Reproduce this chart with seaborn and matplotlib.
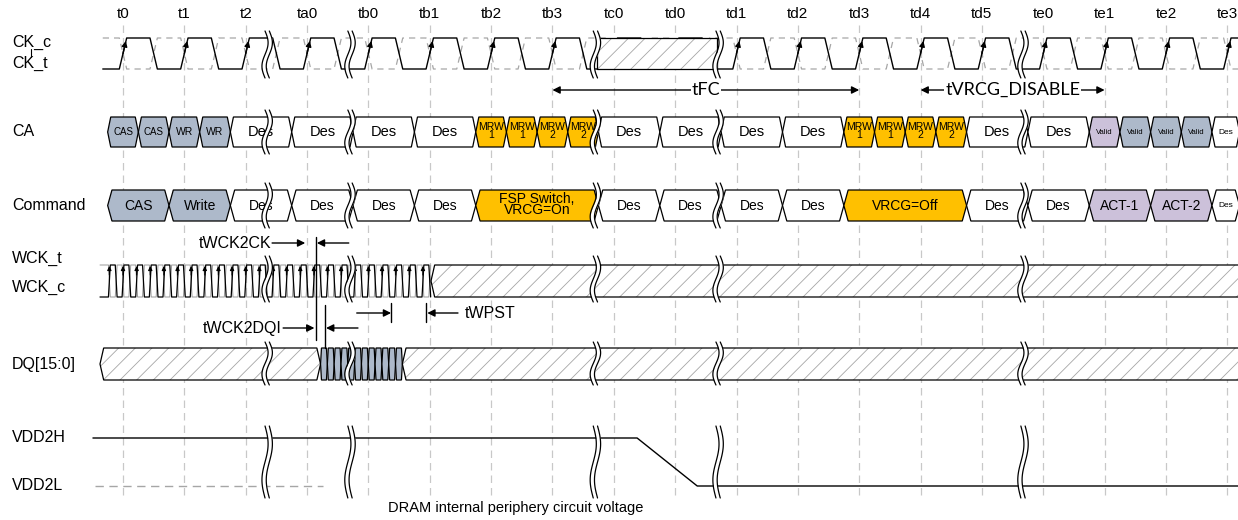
import numpy as np
import pandas as pd
import matplotlib
matplotlib.use('Agg')
import matplotlib.pyplot as plt
from matplotlib.patches import Polygon
import seaborn as sns

# clock edges along the top, one per CK cycle
tick_labels = ['t0', 't1', 't2', 'ta0', 'tb0', 'tb1', 'tb2', 'tb3', 'tc0', 'td0',
               'td1', 'td2', 'td3', 'td4', 'td5', 'te0', 'te1', 'te2', 'te3']

# time breaks, in CK cycles after t0
break_pos = [2.35, 3.70, 7.70, 9.70, 14.67]

# CK stopped (hatched) between these times
ck_stop = (7.72, 9.68)

# CA bus: label, length (CK cycles), kind
ca_labels = ['CAS', 'CAS', 'WR', 'WR', 'Des', 'Des', 'Des', 'Des',
             'MRW\n1', 'MRW\n1', 'MRW\n2', 'MRW\n2', 'Des', 'Des', 'Des', 'Des',
             'MRW\n1', 'MRW\n1', 'MRW\n2', 'MRW\n2', 'Des', 'Des',
             'Valid', 'Valid', 'Valid', 'Valid', 'Des']
ca_len = [0.5] * 4 + [1] * 4 + [0.5] * 4 + [1] * 4 + [0.5] * 4 + [1] * 2 + [0.5] * 4 + [0.45]
ca_kind = ['cmd'] * 4 + ['des'] * 4 + ['mrw'] * 4 + ['des'] * 4 + ['mrw'] * 4 + ['des'] * 2 \
    + ['act', 'cmd', 'cmd', 'cmd'] + ['des']

# Command row
cmd_labels = ['CAS', 'Write', 'Des', 'Des', 'Des', 'Des', 'FSP Switch,\nVRCG=On',
              'Des', 'Des', 'Des', 'Des', 'VRCG=Off', 'Des', 'Des', 'ACT-1', 'ACT-2', 'Des']
cmd_len = [1, 1, 1, 1, 1, 1, 2, 1, 1, 1, 1, 2, 1, 1, 1, 1, 0.45]
cmd_kind = ['cmd', 'cmd', 'des', 'des', 'des', 'des', 'mrw', 'des', 'des', 'des', 'des',
            'mrw', 'des', 'des', 'act', 'act', 'des']
bus_start = -0.25

# WCK: 4.5 toggles per CK, running from wck_on to wck_off
wck_per_ck = 4.5
wck_on, wck_off = -0.375, 5.0

# DQ burst
dq_start = 3.22
dq_beats = 12

# timing markers (CK cycles)
wck2ck_edge = 3.14
dqi_edge = 3.29
wpst = (4.37, 4.94)

# supply: VDD2H drops to VDD2L
vdd_drop = (8.38, 9.36)
vdd_begin = -0.49
vdd2l_ref = (-0.46, 3.26)

fills = {'cmd': '#adb9ca', 'des': 'white', 'mrw': '#ffc000', 'act': '#ccc1da'}
small_font = {'CAS': 7, 'WR': 7.5, 'MRW\n1': 7.5, 'MRW\n2': 7.5, 'Valid': 5.5, 'Des': 6}

# layout (figure pixels from the top)
X0_PX, CYCLE_PX, W_PX, H_PX = 123, 61.35, 1238, 520
TICK_Y = 14
CK_HI, CK_LO = 38, 69
CA_TOP, CA_BOT = 117, 147
CMD_TOP, CMD_BOT = 190, 221
WCK_HI, WCK_LO = 265, 297
DQ_TOP, DQ_BOT = 348, 380
VDDH, VDDL = 438, 486
GRID_TOP, GRID_BOT = 25, 500
LABEL_X = (12 - X0_PX) / CYCLE_PX

sns.set_theme(style='white')
plt.rcParams['font.family'] = ['Liberation Sans', 'DejaVu Sans']
plt.rcParams['text.color'] = 'black'
plt.rcParams['hatch.linewidth'] = 0.6

fig = plt.figure(figsize=(W_PX / 100, H_PX / 100), dpi=100)
ax = fig.add_axes([0, 0, 1, 1])
XMAX = (W_PX - X0_PX) / CYCLE_PX
GREY = '#a6a6a6'
arrow = dict(arrowstyle='-|>', mutation_scale=11, lw=1, color='black',
             shrinkA=0, shrinkB=0)


def draw_break(x, y0, y1):
    yy = np.linspace(y0, y1, 60)
    s = 0.05 * np.sin(2 * np.pi * (yy - y0) / (y1 - y0))
    gap = 0.035
    ax.fill_betweenx(yy, x + s - gap, x + s + gap, color='white', zorder=5, lw=0)
    ax.plot(x + s - gap, yy, color='black', lw=0.9, zorder=5)
    ax.plot(x + s + gap, yy, color='black', lw=0.9, zorder=5)


def hexagon(x0, x1, top, bot, face, p, zorder=3, lw=0.9):
    yc = (top + bot) / 2
    pts = [(x0, yc), (x0 + p, top), (x1 - p, top), (x1, yc), (x1 - p, bot), (x0 + p, bot)]
    ax.add_patch(Polygon(pts, closed=True, facecolor=face, edgecolor='black',
                         lw=lw, zorder=zorder))


def hatched(x0, x1, top, bot, p):
    yc = (top + bot) / 2
    pts = [(x0, yc), (x0 + p, top), (x1 - p, top), (x1, yc), (x1 - p, bot), (x0 + p, bot)]
    ax.add_patch(Polygon(pts, closed=True, facecolor='white', edgecolor=GREY,
                         lw=0, hatch='//', zorder=3))
    ax.add_patch(Polygon(pts, closed=True, fill=False, edgecolor='black',
                         lw=0.9, zorder=3))


# grid and tick labels
for i, lab in enumerate(tick_labels):
    ax.plot([i, i], [GRID_TOP, GRID_BOT], color='#c8c8c8', lw=0.9,
            dashes=(6, 4), zorder=1)
    ax.text(i, TICK_Y, lab, ha='center', va='center', fontsize=11)

# row labels
for lab, y in [('CK_c', 42), ('CK_t', 63), ('CA', 132), ('Command', 206),
               ('WCK_t', 258), ('WCK_c', 287), ('DQ[15:0]', 364),
               ('VDD2H', 438), ('VDD2L', 485)]:
    ax.text(LABEL_X, y, lab, ha='left', va='center', fontsize=11.5)
ax.plot([-1.5, -1.5], [49, 57], color='black', lw=0.8)

# CK_t / CK_c
e = 0.06
xs, yt = [-0.33], [CK_LO]
for i in range(len(tick_labels)):
    xs += [i - e, i + e, i + 0.5 - e, i + 0.5 + e]
    yt += [CK_LO, CK_HI, CK_HI, CK_LO]
ck = pd.DataFrame({'x': xs, 'y_t': yt, 'y_c': [CK_HI + CK_LO - v for v in yt]})
sns.lineplot(data=ck, x='x', y='y_c', color=GREY, lw=0.9, linestyle=(0, (5, 4)),
             estimator=None, sort=False, ax=ax, zorder=2)
sns.lineplot(data=ck, x='x', y='y_t', color='black', lw=1, estimator=None,
             sort=False, ax=ax, zorder=2)
for i in range(len(tick_labels)):
    if ck_stop[0] < i < ck_stop[1]:
        continue
    ax.annotate('', xy=(i + 0.047, CK_HI + 3), xytext=(i, (CK_HI + CK_LO) / 2),
                arrowprops=dict(arrow, mutation_scale=8), zorder=4)
hatched(ck_stop[0], ck_stop[1], CK_HI, CK_LO, 0.0)

# CA and Command buses
for labels, lens, kinds, top, bot, p, big in [
        (ca_labels, ca_len, ca_kind, CA_TOP, CA_BOT, 0.05, 10.5),
        (cmd_labels, cmd_len, cmd_kind, CMD_TOP, CMD_BOT, 0.07, 10)]:
    x = bus_start
    for lab, ln, kd in zip(labels, lens, kinds):
        hexagon(x, x + ln, top, bot, fills[kd], p)
        fs = big if ln >= 1 else small_font[lab]
        ls = 0.8 if '\n' in lab else 1.2
        ax.text(x + ln / 2, (top + bot) / 2 - (1 if '\n' in lab else 0), lab,
                ha='center', va='center', fontsize=fs, linespacing=ls, zorder=4)
        x += ln

# WCK
half = 1 / (2 * wck_per_ck)
ew = 0.015
k0 = int(np.ceil(wck_on / (2 * half)))
k1 = int(np.floor((wck_off - half) / (2 * half) + 1e-9))
rises = [k * 2 * half for k in range(k0, k1 + 1)]
xs, yt = [wck_on], [WCK_LO]
for r in rises:
    xs += [r - ew, r + ew, r + half - ew, r + half + ew]
    yt += [WCK_LO, WCK_HI, WCK_HI, WCK_LO]
wck = pd.DataFrame({'x': xs, 'y_t': yt, 'y_c': [WCK_HI + WCK_LO - v for v in yt]})
sns.lineplot(data=wck, x='x', y='y_c', color='#9a9a9a', lw=0.7, estimator=None,
             sort=False, ax=ax, zorder=2)
sns.lineplot(data=wck, x='x', y='y_t', color='black', lw=0.9, estimator=None,
             sort=False, ax=ax, zorder=2)
for r in rises:
    ax.annotate('', xy=(r, WCK_HI + 1), xytext=(r, WCK_HI + 10),
                arrowprops=dict(arrow, mutation_scale=6, lw=0.8), zorder=4)
hatched(wck_off + 0.02, XMAX + 1, WCK_HI, WCK_LO, 0.06)

# DQ
hatched(wck_on, dq_start, DQ_TOP, DQ_BOT, 0.06)
for b in range(dq_beats):
    hexagon(dq_start + b * half, dq_start + (b + 1) * half, DQ_TOP, DQ_BOT,
            fills['cmd'], 0.015)
hatched(dq_start + dq_beats * half, XMAX + 1, DQ_TOP, DQ_BOT, 0.06)

# VDD2H / VDD2L
vdd = pd.DataFrame({'x': [vdd_begin, vdd_drop[0], vdd_drop[1], XMAX + 1],
                    'y': [VDDH, VDDH, VDDL, VDDL]})
sns.lineplot(data=vdd, x='x', y='y', color='black', lw=1, estimator=None,
             sort=False, ax=ax, zorder=2)
ax.plot(vdd2l_ref, [VDDL, VDDL], color=GREY, lw=1, dashes=(6, 4), zorder=2)
ax.text(6.4, 508, 'DRAM internal periphery circuit voltage', ha='center',
        va='center', fontsize=10.5)

# breaks
for b in break_pos:
    draw_break(b, CK_HI - 7, CK_LO + 9)
    draw_break(b, CA_TOP - 7, CA_BOT + 7)
    draw_break(b, CMD_TOP - 7, CMD_BOT + 7)
    draw_break(b, WCK_HI - 9, WCK_LO + 5)
    draw_break(b, DQ_TOP - 6, DQ_BOT + 5)
    draw_break(b, VDDH - 12, VDDL + 12)

# tFC / tVRCG_DISABLE
for (a, b), lab in [((7, 12), 'tFC'), ((13, 16), 'tVRCG_DISABLE')]:
    ax.annotate('', xy=(a, 90), xytext=(b, 90),
                arrowprops=dict(arrow, arrowstyle='<|-|>'), zorder=6)
    ax.text((a + b) / 2, 90, lab, ha='center', va='center', fontsize=13,
            family=['Lato', 'DejaVu Sans'], zorder=7,
            bbox=dict(facecolor='white', edgecolor='none', pad=0.5))

# WCK timing annotations
ax.plot([wck2ck_edge] * 2, [237, 340], color='black', lw=1, zorder=6)
ax.plot([dqi_edge] * 2, [305, 348], color='black', lw=1, zorder=6)
ax.text(2.42, 243, 'tWCK2CK', ha='right', va='center', fontsize=11.5, zorder=6)
ax.annotate('', xy=(2.97, 243), xytext=(2.43, 243), arrowprops=arrow, zorder=6)
ax.annotate('', xy=(wck2ck_edge + 0.02, 243), xytext=(3.68, 243), arrowprops=arrow,
            zorder=6)
ax.text(2.59, 328, 'tWCK2DQI', ha='right', va='center', fontsize=11.5, zorder=6)
ax.annotate('', xy=(wck2ck_edge - 0.02, 328), xytext=(2.61, 328), arrowprops=arrow,
            zorder=6)
ax.annotate('', xy=(dqi_edge + 0.02, 328), xytext=(3.83, 328), arrowprops=arrow,
            zorder=6)
for w in wpst:
    ax.plot([w, w], [303, 322], color='black', lw=1, zorder=6)
ax.annotate('', xy=(wpst[0], 313), xytext=(3.81, 313), arrowprops=arrow, zorder=6)
ax.annotate('', xy=(wpst[1] + 0.02, 313), xytext=(5.46, 313), arrowprops=arrow,
            zorder=6)
ax.text(5.57, 313, 'tWPST', ha='left', va='center', fontsize=11.5, zorder=6)

ax.set_xlim(-X0_PX / CYCLE_PX, XMAX)
ax.set_ylim(H_PX, 0)
ax.set_axis_off()
fig.savefig('out.png', dpi=100, facecolor='white')
